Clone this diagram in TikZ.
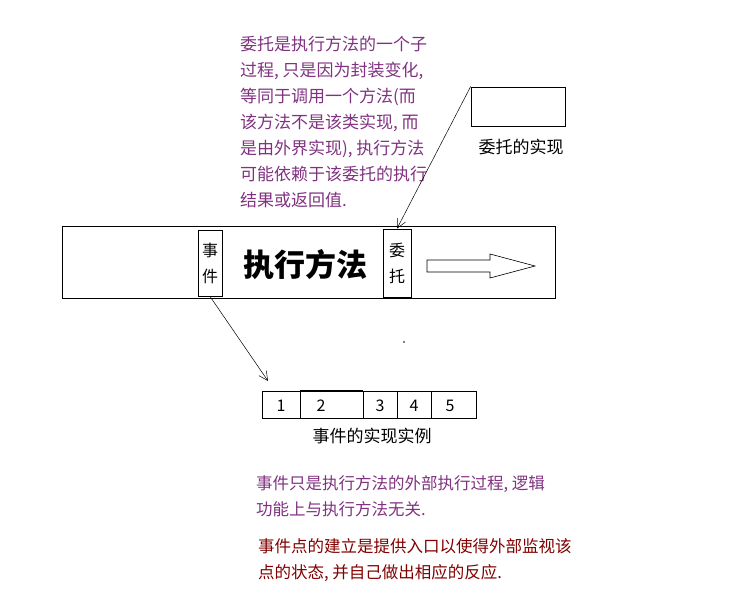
\documentclass[tikz,border=0pt]{standalone}
\usepackage{fontspec}
\usetikzlibrary{arrows.meta}
\setmainfont{Noto Sans CJK SC}
\definecolor{purp}{RGB}{128,50,128}
\definecolor{maro}{RGB}{128,0,0}
\begin{document}
\begin{tikzpicture}[x=1pt,y=-1pt,
 bx/.style={draw,line width=0.8pt},
 tx/.style={font=\fontsize{17}{26}\selectfont,align=left,anchor=north west,inner sep=0pt},
 tx2/.style={font=\fontsize{16.5}{26}\selectfont,align=left,anchor=north west,inner sep=0pt},
 ar/.style={-{Straight Barb[length=9pt,width=9pt]},line width=0.5pt}]
\useasboundingbox (0,0) rectangle (750,595);
\node[tx,text=purp] (t1) at (240,36) {委托是执行方法的一个子\\过程, 只是因为封装变化,\\等同于调用一个方法(而\\该方法不是该类实现, 而\\是由外界实现), 执行方法\\可能依赖于该委托的执行\\结果或返回值.};
\draw[bx] (62,226) rectangle (555,298);
\node[bx,minimum width=24pt,minimum height=66pt,inner sep=0pt,align=center,font=\fontsize{16}{26}\selectfont] (ev) at (210,263) {事\\件};
\node[bx,minimum width=28pt,minimum height=68pt,inner sep=0pt,align=center,font=\fontsize{16}{26}\selectfont] (dg) at (397,263) {委\\托};
\node[font=\fontsize{31}{33}\selectfont\bfseries] (m) at (305,265) {执行方法};
\draw[line width=0.6pt] (427,260) -- (490,260) -- (490,254) -- (535,266) -- (490,278) -- (490,272) -- (427,272) -- cycle;
\node[bx,minimum width=94pt,minimum height=39pt,inner sep=0pt] (impl) at (518,106.5) {};
\node[font=\fontsize{17}{20}\selectfont] (il) at (521,147) {委托的实现};
\draw[ar] (impl.north west) -- (dg.north);
\coordinate (r) at (268,381);
\draw[ar] (ev.south) -- (r);
\draw[bx] (262,391) rectangle (476,418);
\draw[bx] (300,391) -- (300,418) (363,391) -- (363,418);
\draw[line width=1.6pt] (300,391) -- (363,391);
\draw[bx] (397,391) rectangle (431,418);
\foreach \x/\n in {281/1,321/2,380/3,414/4,450/5} \node[font=\fontsize{16}{18}\selectfont] at (\x,406) {\n};
\node[font=\fontsize{17}{20}\selectfont] (rl) at (372,436) {事件的实现实例};
\fill (404,342) circle (0.9pt);
\node[tx2,text=purp] (t2) at (256,475) {事件只是执行方法的外部执行过程, 逻辑\\功能上与执行方法无关.};
\node[tx2,text=maro] (t3) at (258,538) {事件点的建立是提供入口以使得外部监视该\\点的状态, 并自己做出相应的反应.};
\end{tikzpicture}
\end{document}
